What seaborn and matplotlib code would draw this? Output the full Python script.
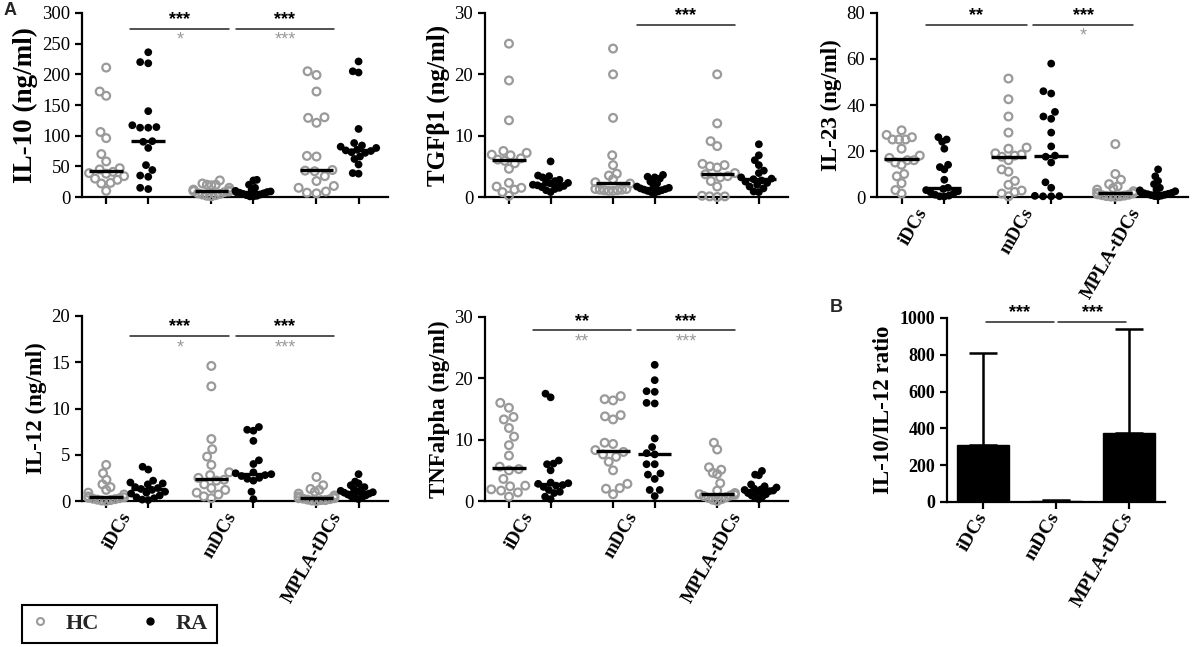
import numpy as np
import pandas as pd
import matplotlib
matplotlib.use('Agg')
import matplotlib.pyplot as plt
import seaborn as sns
from matplotlib.lines import Line2D
from matplotlib.collections import PathCollection

# ---------------- data ----------------
categories = ['iDCs', 'mDCs', 'MPLA-tDCs']
groups = ['HC', 'RA']

il10_hc = [[211, 172, 165, 106, 96, 70, 58, 47, 45, 41, 39, 38, 34, 30, 28, 23, 22, 10],
           [27, 22, 20, 20, 19, 15, 12, 11, 10, 10, 9, 8, 6, 5, 4, 3, 2, 1],
           [205, 199, 172, 130, 129, 121, 67, 66, 44, 43, 42, 34, 26, 18, 15, 9, 7, 6]]
il10_ra = [[236, 220, 218, 140, 117, 114, 113, 113, 91, 90, 80, 52, 44, 35, 33, 15, 13],
           [28, 27, 20, 15, 12, 10, 9, 8, 8, 7, 6, 5, 4, 3, 2, 1, 1],
           [221, 205, 203, 111, 88, 84, 82, 80, 77, 76, 75, 73, 72, 66, 62, 53, 39, 38]]

tgf_hc = [[25, 19, 12.5, 7.5, 7.2, 6.9, 6.8, 6.3, 6.1, 5.9, 5.5, 4.6, 2.3, 1.7, 1.5, 1.2, 0.8, 0.2],
          [24.2, 20, 12.9, 6.8, 5.2, 3.8, 3.5, 2.9, 2.4, 2.2, 1.3, 1.3, 1.2, 1.2, 1.1, 1.1, 1.0, 1.0],
          [20, 12, 9.1, 8.3, 5.4, 5.2, 5.0, 4.8, 3.9, 3.7, 3.4, 3.2, 2.6, 1.7, 0.2, 0.1, 0.1, 0.0]]
tgf_ra = [[5.8, 3.5, 3.4, 3.2, 2.8, 2.6, 2.4, 2.3, 2.2, 2.0, 1.9, 1.8, 1.6, 1.5, 1.3, 1.1, 0.8],
          [3.6, 3.3, 3.2, 3.0, 2.5, 2.2, 1.9, 1.7, 1.5, 1.4, 1.3, 1.2, 1.1, 1.0, 0.9, 0.8, 0.7],
          [8.6, 6.8, 6.0, 5.2, 4.3, 3.9, 3.2, 3.0, 2.9, 2.7, 2.5, 2.3, 2.0, 1.7, 1.4, 0.9, 0.8]]

il23_hc = [[29, 27, 26, 25, 25, 25, 21, 18, 17, 16, 16, 15, 14, 10, 9, 6, 3, 1.5],
           [51.5, 42.5, 35, 28, 21.5, 21, 19, 18.5, 18, 17.5, 16, 12, 11, 7, 5.3, 2.8, 2.2, 1.5, 0.3],
           [23, 10, 7.5, 5.6, 4.6, 3.9, 3.2, 2.5, 1.8, 1.6, 1.2, 1.0, 0.8, 0.6, 0.4, 0.3, 0.2, 0.1]]
il23_ra = [[26, 25, 24, 21, 14, 13, 12, 7.5, 4, 3.5, 3, 2.5, 2, 1.5, 1, 0.6, 0.3, 0.2],
           [58, 46, 45, 37, 35, 34, 28, 22, 18, 17.5, 15, 6.4, 4, 0.5, 0.4, 0.3, 0.3],
           [12, 9, 7, 5.6, 4, 3.2, 2.9, 2.5, 2, 1.8, 1.6, 1.4, 1.2, 1.0, 0.8, 0.6, 0.4, 0.2]]

il12_hc = [[3.9, 3.0, 2.3, 1.8, 1.5, 1.2, 0.9, 0.7, 0.5, 0.4, 0.35, 0.3, 0.25, 0.2, 0.15, 0.1, 0.05, 0.0],
           [14.6, 12.4, 6.7, 5.6, 4.8, 3.9, 3.1, 2.8, 2.5, 2.3, 2.2, 1.8, 1.4, 1.2, 0.9, 0.7, 0.5, 0.3],
           [2.6, 1.7, 1.3, 1.2, 1.0, 0.8, 0.6, 0.5, 0.4, 0.3, 0.3, 0.25, 0.2, 0.15, 0.1, 0.1, 0.05, 0.0]]
il12_ra = [[3.7, 3.4, 2.2, 2.0, 1.9, 1.8, 1.5, 1.4, 1.3, 1.2, 1.0, 0.9, 0.8, 0.6, 0.4, 0.3, 0.15, 0.1],
           [8.0, 7.7, 7.6, 6.5, 4.4, 4.0, 3.1, 3.0, 2.9, 2.8, 2.7, 2.5, 2.4, 2.2, 1.0, 0.2],
           [2.9, 2.1, 1.9, 1.7, 1.5, 1.3, 1.2, 1.1, 1.0, 0.95, 0.9, 0.8, 0.7, 0.6, 0.5, 0.4, 0.3, 0.2]]

tnf_hc = [[16, 15.2, 13.7, 13.3, 11.9, 10.5, 9.1, 7.4, 5.6, 5.2, 5.0, 3.6, 2.5, 2.4, 1.9, 1.7, 1.4, 0.7],
          [17.1, 16.6, 16.4, 14.0, 13.8, 13.3, 9.5, 9.3, 8.3, 8.0, 7.6, 7.2, 6.4, 5.0, 2.8, 2.1, 2.0, 1.1],
          [9.5, 8.4, 5.5, 5.1, 4.6, 4.4, 2.9, 1.7, 1.3, 1.1, 1.0, 0.9, 0.8, 0.6, 0.5, 0.3, 0.2, 0.0]]
tnf_ra = [[17.5, 16.9, 6.6, 6.1, 6.0, 5.0, 3.0, 2.9, 2.8, 2.6, 2.5, 2.3, 1.8, 1.5, 1.3, 0.7, 0.3],
          [22.2, 19.7, 17.9, 17.8, 16.0, 15.9, 10.2, 8.8, 7.8, 7.6, 6.0, 6.0, 4.5, 4.3, 3.6, 1.8, 1.8, 0.8],
          [4.9, 4.3, 4.2, 2.7, 2.4, 2.2, 2.0, 1.9, 1.8, 1.7, 1.6, 1.5, 1.3, 1.1, 0.9, 0.7, 0.5, 0.3]]

ratio_mean = [310, 8, 373]
ratio_err = [500, 4, 567]

# significance: (from group, to group, RA stars, HC stars)
il10_sig = [(0, 1, '***', '*'), (1, 2, '***', '***')]
tgf_sig = [(1, 2, '***', '')]
il23_sig = [(0, 1, '**', ''), (1, 2, '***', '*')]
il12_sig = [(0, 1, '***', '*'), (1, 2, '***', '***')]
tnf_sig = [(0, 1, '**', '**'), (1, 2, '***', '***')]
ratio_sig = [(0, 1, '***', ''), (1, 2, '***', '')]

# ---------------- style ----------------
sns.set_theme(style='ticks')
plt.rcParams['font.family'] = ['Liberation Serif', 'DejaVu Serif']
GRAY = '#9a9a9a'
SERIF = 'Liberation Serif'
SANS = 'Liberation Sans'
DODGE = 0.2
SPREAD = 0.17

W, H = 1192, 647
fig = plt.figure(figsize=(W / 100, H / 100), dpi=100)


def px_axes(left, right, top, bottom):
    return fig.add_axes([left / W, 1 - bottom / H, (right - left) / W, (bottom - top) / H])


def long_df(hc, ra):
    rows = []
    for cat, vals in zip(categories, hc):
        rows += [(cat, 'HC', v) for v in vals]
    for cat, vals in zip(categories, ra):
        rows += [(cat, 'RA', v) for v in vals]
    return pd.DataFrame(rows, columns=['cell', 'group', 'value'])


def style_axes(ax, bold_ticks=False, tick_size=13.5):
    sns.despine(ax=ax)
    for s in ('left', 'bottom'):
        ax.spines[s].set_linewidth(1.6)
        ax.spines[s].set_color('black')
    ax.tick_params(axis='both', which='major', width=1.6, length=5, color='black',
                   direction='out')
    for lab in ax.get_yticklabels():
        lab.set_fontfamily(SERIF)
        lab.set_fontsize(tick_size)
        lab.set_fontweight('bold' if bold_ticks else 'normal')
        lab.set_color('black')


def add_sig(ax, sig, y, star_size=13):
    for i, j, top, bottom in sig:
        ax.plot([i + 0.03, j - 0.03], [y, y], color='#222222', lw=1.1, clip_on=False)
        xm = (i + j) / 2
        if top:
            ax.annotate(top, (xm, y), xytext=(0, 0.6), textcoords='offset points',
                        ha='center', va='bottom', fontsize=star_size, family=SANS,
                        fontweight='bold', color='black', annotation_clip=False)
        if bottom:
            ax.annotate(bottom, (xm, y), xytext=(0, -2.0), textcoords='offset points',
                        ha='center', va='top', fontsize=star_size, family=SANS,
                        color=GRAY, annotation_clip=False)


def scatter_panel(ax, hc, ra, ylabel, label_size, ymax, ystep, sig, sig_y, show_labels):
    df = long_df(hc, ra)
    sns.swarmplot(data=df, x='cell', y='value', hue='group', order=categories,
                  hue_order=groups, dodge=True, palette={'HC': GRAY, 'RA': 'black'},
                  size=5.6, ax=ax, legend=False, warn_thresh=1)
    for coll in ax.collections:
        fc = np.array(coll.get_facecolors())
        if len(fc) == 0:
            continue
        if fc[0, 0] > 0.3:
            coll.set_facecolor('none')
            coll.set_edgecolor(GRAY)
            coll.set_linewidth(1.6)
        else:
            coll.set_edgecolor('black')
            coll.set_linewidth(0.0)
        coll.set_clip_on(False)
    # medians
    for k, cat in enumerate(categories):
        for off, vals in ((-DODGE, hc[k]), (DODGE, ra[k])):
            ax.hlines(np.median(vals), k + off - 0.16, k + off + 0.16, color='black',
                      lw=2.4, zorder=5)
    ax.set_xlim(-0.43, 2.48)
    ax.set_ylim(0, ymax)
    ax.set_yticks(np.arange(0, ymax + ystep / 2, ystep))
    ticks = [k + o for k in range(3) for o in (-DODGE, DODGE)]
    ax.set_xticks(ticks)
    ax.set_xticklabels([''] * 6)
    ax.set_xticks(range(3), minor=True)
    if show_labels:
        ax.set_xticklabels(categories, minor=True, rotation=60,
                           ha='right', va='center', rotation_mode='anchor',
                           fontsize=13.5, fontweight='bold', family=SERIF, color='black')
    else:
        ax.set_xticklabels([''] * 3, minor=True)
    ax.tick_params(axis='x', which='minor', length=0, pad=9)
    ax.set_xlabel('')
    ax.set_ylabel(ylabel, fontsize=label_size, fontweight='bold', family=SERIF,
                  color='black', labelpad=3)
    style_axes(ax)
    add_sig(ax, sig, sig_y)


ax1 = px_axes(82, 388, 13, 197)
scatter_panel(ax1, il10_hc, il10_ra, 'IL-10 (ng/ml)', 19.5, 300, 50, il10_sig, 274, False)
ax2 = px_axes(485, 788, 13, 197)
scatter_panel(ax2, tgf_hc, tgf_ra, 'TGF\u03b21 (ng/ml)', 18, 30, 10, tgf_sig, 28.0, False)
ax3 = px_axes(877, 1188, 13, 197)
scatter_panel(ax3, il23_hc, il23_ra, 'IL-23 (ng/ml)', 16.5, 80, 20, il23_sig, 74.8, True)
ax4 = px_axes(82, 388, 316, 501)
scatter_panel(ax4, il12_hc, il12_ra, 'IL-12 (ng/ml)', 16.5, 20, 5, il12_sig, 17.8, True)
ax5 = px_axes(485, 788, 317, 501)
scatter_panel(ax5, tnf_hc, tnf_ra, 'TNFalpha (ng/ml)', 16.5, 30, 10, tnf_sig, 27.8, True)
scatter_axes = [ax1, ax2, ax3, ax4, ax5]

# panel B
axb = px_axes(947, 1165, 318, 502)
dfb = pd.DataFrame({'cell': categories, 'ratio': ratio_mean})
sns.barplot(data=dfb, x='cell', y='ratio', order=categories, color='black',
            saturation=1, width=0.72, errorbar=None, edgecolor='black', ax=axb)
axb.errorbar(np.arange(len(categories)), ratio_mean,
             yerr=[np.zeros(len(ratio_err)), ratio_err], fmt='none', ecolor='black',
             elinewidth=1.8, capsize=10, capthick=1.8, zorder=3)
axb.set_xlim(-0.5, 2.5)
axb.set_ylim(0, 1000)
axb.set_yticks(np.arange(0, 1001, 200))
axb.set_xticks(range(3))
axb.set_xticklabels(categories, rotation=60, ha='right', va='center', rotation_mode='anchor',
                    fontsize=14, fontweight='bold', family=SERIF, color='black')
axb.set_xlabel('')
axb.set_ylabel('IL-10/IL-12 ratio', fontsize=16.5, fontweight='bold', family=SERIF,
               color='black')
style_axes(axb, bold_ticks=True, tick_size=13)
add_sig(axb, ratio_sig, 978)

# panel letters
fig.text(4 / W, 1 - 2 / H, 'A', fontsize=13, fontweight='bold', family=SANS, va='top')
fig.text(830 / W, 1 - 299 / H, 'B', fontsize=13, fontweight='bold', family=SANS, va='top')

# legend
handles = [Line2D([], [], marker='o', ls='none', markerfacecolor='none',
                  markeredgecolor=GRAY, markeredgewidth=1.5, markersize=5),
           Line2D([], [], marker='o', ls='none', color='black', markersize=5)]
leg = fig.legend(handles, groups, loc='lower left', bbox_to_anchor=(22 / W, 4 / H),
                 ncol=2, frameon=True, fancybox=False, edgecolor='black',
                 prop={'family': SERIF, 'weight': 'bold', 'size': 16},
                 handletextpad=0.75, columnspacing=1.9, borderpad=0.4, handlelength=0.8,
                 borderaxespad=0)
leg.get_frame().set_linewidth(1.5)
leg.get_frame().set_alpha(1)

# lay out the swarms once, then keep each swarm within its dodge slot
fig.canvas.draw()
slots = np.array([k + o for k in range(3) for o in (-DODGE, DODGE)])
for ax in scatter_axes:
    for coll in ax.collections:
        if not isinstance(coll, PathCollection):
            continue
        off = np.array(coll.get_offsets())
        if len(off) == 0:
            continue
        if 'draw' in coll.__dict__:
            del coll.draw
        xs = off[:, 0]
        center = slots[np.argmin(np.abs(slots - np.median(xs)))]
        dev = xs - center
        maxdev = np.abs(dev).max()
        if maxdev > SPREAD:
            off[:, 0] = center + dev * (SPREAD / maxdev)
            coll.set_offsets(off)

fig.savefig('out.png', dpi=100)
